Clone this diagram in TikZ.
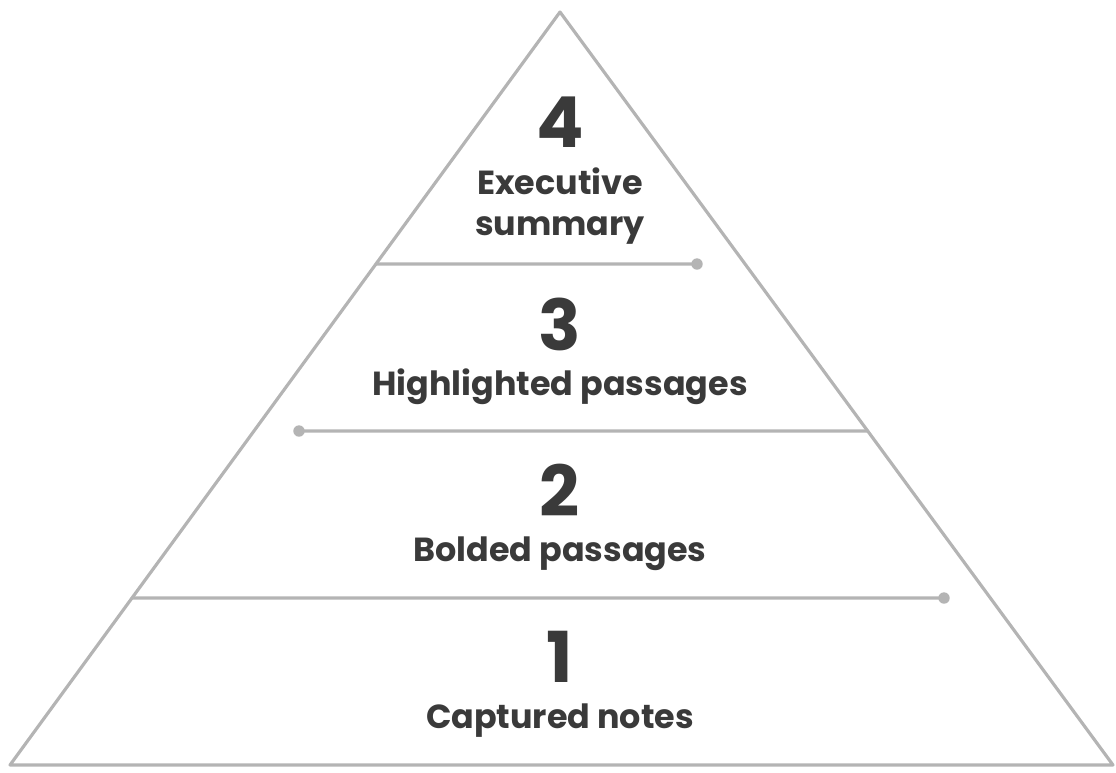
\documentclass[tikz,border=0pt]{standalone}
\usepackage{fontspec}
\setmainfont{Poppins}
\usetikzlibrary{calc}
\definecolor{PyramidLine}{HTML}{B4B4B4}
\definecolor{PyramidInk}{HTML}{3A3A3A}
\tikzset{
  LevelNumber/.style={text=PyramidInk, font=\fontsize{40}{40}\selectfont\bfseries, inner sep=0pt},
  LevelLabel/.style={text=PyramidInk, font=\fontsize{19}{23.2}\selectfont\bfseries, inner sep=0pt, align=center},
  LevelLine/.style={PyramidLine, line width=1.8pt},
  LevelDot/.style={circle, fill=PyramidLine, inner sep=0pt, minimum size=6.5pt}
}

\begin{document}
\begin{tikzpicture}[x=0.02cm, y=-0.02cm, line cap=round, line join=round]
  \useasboundingbox (0,0) rectangle (1116,772);
  \coordinate (apex) at (560,12);
  \coordinate (baseL) at (10,765);
  \coordinate (baseR) at (1113,765);

  % pyramid outline
  \draw[LevelLine] (apex) -- (baseR) -- (baseL) -- cycle;

  % level dividers
  \coordinate (e3) at ($(apex)!0.3347!(baseL)$);
  \coordinate (e2) at ($(apex)!0.5564!(baseR)$);
  \coordinate (e1) at ($(apex)!0.7782!(baseL)$);
  \node[LevelDot] (d3) at (697,264) {};
  \node[LevelDot] (d2) at (299,431) {};
  \node[LevelDot] (d1) at (944,598) {};
  \draw[LevelLine] (e3) -- (d3.center);
  \draw[LevelLine] (d2.center) -- (e2);
  \draw[LevelLine] (e1) -- (d1.center);

  % labels
  \node[LevelNumber] (n4) at (560,122) {4};
  \node[LevelLabel, anchor=base] (l4) at (560,235) {Executive\\summary};
  \node[LevelNumber] (n3) at (560,324) {3};
  \node[LevelLabel, anchor=base] (l3) at (560,395) {Highlighted passages};
  \node[LevelNumber] (n2) at (560,490) {2};
  \node[LevelLabel, anchor=base] (l2) at (560,561) {Bolded passages};
  \node[LevelNumber] (n1) at (560,657) {1};
  \node[LevelLabel, anchor=base] (l1) at (560,728) {Captured notes};
\end{tikzpicture}
\end{document}
